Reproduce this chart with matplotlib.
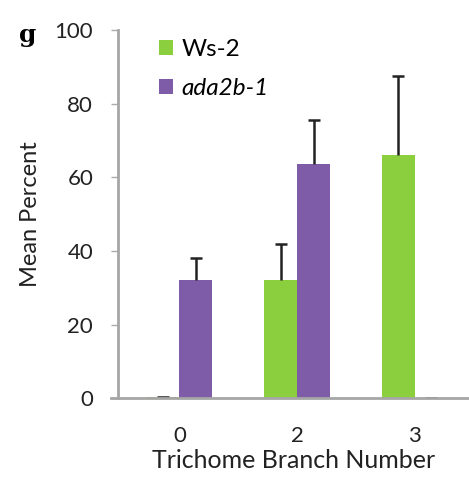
import numpy as np
import matplotlib.pyplot as plt

plt.rcParams['font.family'] = ['Lato', 'DejaVu Sans']

# data
branch_labels = ['0', '2', '3']
ws2_mean = [0.3, 32, 66]
ws2_err = [0, 10, 21.5]
ada_mean = [32, 63.5, 0]
ada_err = [6, 12, 0]

green = '#8CCF3E'
purple = '#7E5CA8'

fig = plt.figure(figsize=(4.69, 4.78), dpi=100)
ax = fig.add_axes([0.252, 0.167, 0.748, 0.770])

x = np.arange(len(branch_labels))
w = 0.28
ax.bar(x - w/2, ws2_mean, w, color=green, label='Ws-2')
ax.bar(x + w/2, ada_mean, w, color=purple, label='ada2b-1')
for xs, m, e in [(x - w/2, ws2_mean, ws2_err), (x + w/2, ada_mean, ada_err)]:
    eb = ax.errorbar(xs, m, yerr=[np.zeros(3), e], fmt='none',
                     ecolor='#222222', elinewidth=1.8, capsize=4, capthick=1.8)
    eb[1][0].set_visible(False)  # only upper caps

ax.set_xlim(-0.52, 2.46)
ax.set_ylim(0, 100)
ax.set_yticks([0, 20, 40, 60, 80, 100])
ax.set_xticks(x)
ax.set_xticklabels(branch_labels)
ax.tick_params(axis='x', length=0, labelsize=16, pad=20, colors='#222222')
ax.tick_params(axis='y', length=5, width=1, color='#aaaaaa', labelsize=16,
               pad=13, labelcolor='#222222')

for s in ['top', 'right']:
    ax.spines[s].set_visible(False)
for s in ['left', 'bottom']:
    ax.spines[s].set_color('#a6a6a6')
    ax.spines[s].set_linewidth(2)
# bottom axis line runs a little past the left spine
ax.plot([-0.02, 0], [0, 0], transform=ax.transAxes, color='#a6a6a6',
        lw=2, clip_on=False)

ax.set_xlabel('Trichome Branch Number', fontsize=18, color='#222222', labelpad=2)
ax.set_ylabel('Mean Percent', fontsize=17, color='#222222', labelpad=10)

leg = ax.legend(loc='upper left', bbox_to_anchor=(0.055, 1.035), frameon=False,
                fontsize=17.5, handlelength=0.55, handleheight=0.55,
                handletextpad=0.35, labelspacing=0.75)
leg.get_texts()[1].set_style('italic')

fig.text(0.04, 0.912, 'g', fontsize=18, fontweight='bold', family='DejaVu Serif')

fig.savefig('out.png', dpi=100)
